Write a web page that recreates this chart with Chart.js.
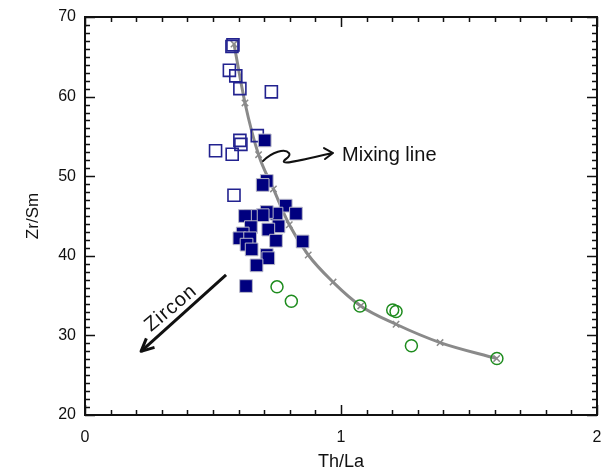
<!DOCTYPE html>
<html><head><meta charset="utf-8">
<script src="https://cdn.jsdelivr.net/npm/chart.js@4/dist/chart.umd.min.js"></script>
<style>html,body{margin:0;padding:0;background:#fff}#wrap{width:609px;height:474px}</style>
</head><body><div id="wrap"><canvas id="c" width="609" height="474"></canvas></div>
<script>
// Open squares (Th/La, Zr/Sm)
const openSqX = [0.574,0.578,0.564,0.589,0.605,0.728,0.673,0.605,0.609,0.510,0.575,0.582];
const openSqY = [66.3,66.5,63.3,62.6,61.0,60.6,55.1,54.5,54.0,53.2,52.75,47.6];
// Filled squares
const fillSqX = [0.702,0.710,0.694,0.784,0.824,0.748,0.710,0.694,0.648,0.625,0.756,0.716,0.648,0.616,0.603,0.645,0.746,0.850,0.631,0.651,0.710,0.716,0.670,0.629];
const fillSqY = [54.5,49.4,48.9,46.3,45.3,45.3,45.5,45.1,45.0,45.0,43.7,43.3,43.6,42.8,42.2,42.2,41.9,41.8,41.4,40.8,40.1,39.7,38.8,36.2];
// Open circles
const circX = [0.750,0.806,1.074,1.202,1.215,1.275,1.609];
const circY = [36.1,34.3,33.7,33.2,33.0,28.7,27.1];
// Mixing line nodes
const mixX = [0.582,0.625,0.678,0.736,0.798,0.872,0.969,1.077,1.215,1.387,1.608];
const mixY = [66.6,59.2,52.7,48.4,43.9,40.1,36.7,33.7,31.4,29.1,27.1];
const xTicks = [0,1,2];
const yTicks = [20,30,40,50,60,70];

const pts = (xs, ys) => xs.map((x, i) => ({x, y: ys[i]}));

const framePlugin = {
  id: 'frame',
  beforeDatasetsDraw(chart) {
    const {ctx, chartArea: a, scales: {x, y}} = chart;
    ctx.save();
    ctx.strokeStyle = '#111';
    ctx.lineWidth = 1.5;
    ctx.beginPath();
    for (let i = 0; i <= 20; i++) {
      const px = Math.round(x.getPixelForValue(i / 10)) + 0.5;
      const len = (i % 10 === 0) ? 10 : 5;
      ctx.moveTo(px, a.bottom); ctx.lineTo(px, a.bottom - len);
      ctx.moveTo(px, a.top); ctx.lineTo(px, a.top + len);
    }
    for (let v = 20; v <= 70; v++) {
      const py = Math.round(y.getPixelForValue(v)) + 0.5;
      const len = (v % 10 === 0) ? 10 : 5;
      ctx.moveTo(a.left, py); ctx.lineTo(a.left + len, py);
      ctx.moveTo(a.right, py); ctx.lineTo(a.right - len, py);
    }
    ctx.stroke();
    ctx.lineWidth = 2;
    ctx.strokeRect(a.left, a.top, a.right - a.left, a.bottom - a.top);
    ctx.restore();
  },
  afterDraw(chart) {
    const {ctx, chartArea: a, scales: {x, y}} = chart;
    ctx.save();
    ctx.fillStyle = '#111';
    // axis titles
    ctx.font = '18px "Liberation Sans", Arial, sans-serif';
    ctx.textAlign = 'center'; ctx.textBaseline = 'middle';
    ctx.fillText('Th/La', (a.left + a.right) / 2, 462);
    ctx.save();
    ctx.translate(33, (a.top + a.bottom) / 2);
    ctx.rotate(-Math.PI / 2);
    ctx.font = '17px "Liberation Sans", Arial, sans-serif';
    ctx.fillText('Zr/Sm', 0, 0);
    ctx.restore();

    // Mixing line label + wavy arrow
    const lx = x.getPixelForValue(1.004), ly = y.getPixelForValue(52.66);
    ctx.font = '20px "Liberation Sans", Arial, sans-serif';
    ctx.textAlign = 'left';
    ctx.fillText('Mixing line', lx, ly);
    ctx.strokeStyle = '#111'; ctx.lineWidth = 2; ctx.lineCap = 'round'; ctx.lineJoin = 'round';
    const ox = lx - 342, oy = ly - 155;
    ctx.beginPath();
    ctx.moveTo(ox + 263, oy + 161);
    ctx.bezierCurveTo(ox + 272, oy + 152, ox + 285, oy + 148, ox + 289, oy + 153);
    ctx.bezierCurveTo(ox + 292, oy + 157, ox + 282, oy + 160, ox + 284, oy + 162);
    ctx.bezierCurveTo(ox + 287, oy + 164, ox + 300, oy + 160, ox + 333, oy + 153);
    ctx.moveTo(ox + 324, oy + 148); ctx.lineTo(ox + 333, oy + 153); ctx.lineTo(ox + 325, oy + 159);
    ctx.stroke();

    // Zircon arrow
    const x1 = x.getPixelForValue(0.551), y1 = y.getPixelForValue(37.6);
    const x2 = x.getPixelForValue(0.219), y2 = y.getPixelForValue(28.0);
    ctx.lineWidth = 3; ctx.lineCap = 'butt';
    ctx.beginPath(); ctx.moveTo(x1, y1); ctx.lineTo(x2, y2); ctx.stroke();
    const ang = Math.atan2(y2 - y1, x2 - x1);
    const hl = 14, hw = 0.45;
    ctx.beginPath();
    ctx.moveTo(x2 - hl * Math.cos(ang - hw), y2 - hl * Math.sin(ang - hw));
    ctx.lineTo(x2, y2);
    ctx.lineTo(x2 - hl * Math.cos(ang + hw), y2 - hl * Math.sin(ang + hw));
    ctx.stroke();
    ctx.save();
    ctx.translate(x.getPixelForValue(0.336), y.getPixelForValue(33.4));
    ctx.rotate(-40 * Math.PI / 180);
    ctx.font = '20px "Liberation Sans", Arial, sans-serif';
    ctx.letterSpacing = '1px';
    ctx.textAlign = 'center'; ctx.textBaseline = 'middle';
    ctx.fillText('Zircon', 0, 0);
    ctx.restore();
    ctx.restore();
  }
};

new Chart(document.getElementById('c'), {
  type: 'scatter',
  data: {
    datasets: [
      { label: 'Filled', data: pts(fillSqX, fillSqY), order: 0,
        pointStyle: 'rect', pointRadius: 9, backgroundColor: '#00007f', borderColor: '#b8b8c8', borderWidth: 1 },
      { label: 'Open', data: pts(openSqX, openSqY), order: 1,
        pointStyle: 'rect', pointRadius: 8.5, backgroundColor: 'rgba(0,0,0,0)', borderColor: '#22228f', borderWidth: 1.6 },
      { label: 'Circles', data: pts(circX, circY), order: 2,
        pointStyle: 'circle', pointRadius: 6, backgroundColor: 'rgba(0,0,0,0)', borderColor: '#1e8c1e', borderWidth: 1.5 },
      { label: 'Mixing', data: pts(mixX, mixY), order: 3, showLine: true,
        cubicInterpolationMode: 'monotone', borderColor: '#8a8a8a', borderWidth: 3,
        pointStyle: 'crossRot', pointRadius: 4.5, pointBorderColor: '#8a8a8a', pointBorderWidth: 1.5, backgroundColor: '#8a8a8a' }
    ]
  },
  options: {
    responsive: false, animation: false, devicePixelRatio: 1,
    layout: { autoPadding: false, padding: { top: 17, right: 12, left: 0, bottom: 0 } },
    plugins: { legend: { display: false }, tooltip: { enabled: false } },
    scales: {
      x: { type: 'linear', min: 0, max: 2,
        afterFit: s => { s.height = 59; },
        afterBuildTicks: s => { s.ticks = xTicks.map(v => ({value: v})); },
        grid: { display: false, drawTicks: true, tickLength: 8 }, border: { display: false },
        ticks: { color: '#111', font: { size: 16, family: '"Liberation Sans", Arial, sans-serif' }, padding: 5, maxRotation: 0 } },
      y: { type: 'linear', min: 20, max: 70,
        afterFit: s => { s.width = 85; },
        afterBuildTicks: s => { s.ticks = yTicks.map(v => ({value: v})); },
        grid: { display: false, drawTicks: true, tickLength: 7 }, border: { display: false },
        ticks: { color: '#111', font: { size: 16, family: '"Liberation Sans", Arial, sans-serif' }, padding: 2 } }
    }
  },
  plugins: [framePlugin]
});
</script></body></html>
